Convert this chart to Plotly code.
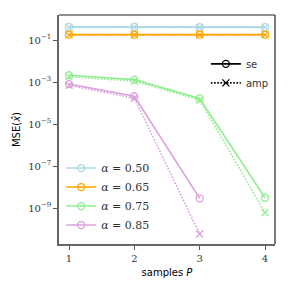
import plotly.graph_objects as go

samples = [1, 2, 3, 4]
alphas = ["0.50", "0.65", "0.75", "0.85"]
colors = ["#ADD8E6", "#FFA500", "#90EE90", "#DDA0DD"]

se_050 = [0.42, 0.42, 0.41, 0.41]
amp_050 = [0.40, 0.41, 0.40, 0.40]
se_065 = [0.18, 0.18, 0.18, 0.18]
amp_065 = [0.175, 0.175, 0.175, 0.175]
se_075 = [2.1e-3, 1.3e-3, 1.65e-4, 3.1e-9]
amp_075 = [1.8e-3, 1.1e-3, 1.4e-4, 6e-10]
se_085 = [8e-4, 2.1e-4, 2.9e-9]
amp_085 = [7e-4, 1.7e-4, 5.8e-11]

se_all = [se_050, se_065, se_075, se_085]
amp_all = [amp_050, amp_065, amp_075, amp_085]

ytick_vals = [1e-1, 1e-3, 1e-5, 1e-7, 1e-9]
ytick_text = ["10<sup>−1</sup>", "10<sup>−3</sup>", "10<sup>−5</sup>", "10<sup>−7</sup>", "10<sup>−9</sup>"]
xtick_vals = [1, 2, 3, 4]

DOT = "1.6px,1.6px"

fig = go.Figure()

for a, c, se, amp in zip(alphas, colors, se_all, amp_all):
    fig.add_trace(go.Scatter(
        x=samples[:len(amp)], y=amp, mode="lines+markers",
        line=dict(color=c, width=1.6, dash=DOT),
        marker=dict(symbol="x-thin", size=7, line=dict(color=c, width=1.3)),
        showlegend=False,
    ))
    fig.add_trace(go.Scatter(
        x=samples[:len(se)], y=se, mode="lines+markers",
        line=dict(color=c, width=1.6),
        marker=dict(symbol="circle-open", size=7, color=c, line=dict(color=c, width=1.3)),
        name=f"<i>α</i> = {a}", legend="legend",
    ))

fig.add_trace(go.Scatter(
    x=[None], y=[None], mode="lines+markers",
    line=dict(color="black", width=1.6),
    marker=dict(symbol="circle-open", size=7, color="black", line=dict(color="black", width=1.3)),
    name="se", legend="legend2",
))
fig.add_trace(go.Scatter(
    x=[None], y=[None], mode="lines+markers",
    line=dict(color="black", width=1.6, dash=DOT),
    marker=dict(symbol="x-thin", size=7, line=dict(color="black", width=1.3)),
    name="amp", legend="legend2",
))

# page body has an 8px margin: shrink the figure and shift the margins to compensate
fig.update_layout(
    width=283, height=283,
    margin=dict(l=51, r=16, t=7, b=47),
    paper_bgcolor="white", plot_bgcolor="white",
    font=dict(family="DejaVu Sans", size=10, color="black"),
    legend=dict(
        x=0.01, y=0.395, xanchor="left", yanchor="top",
        bgcolor="rgba(255,255,255,0)",
        font=dict(family="DejaVu Serif", size=11, color="#333"),
        tracegroupgap=0, itemwidth=30,
    ),
    legend2=dict(
        x=0.68, y=0.85, xanchor="left", yanchor="top",
        bgcolor="rgba(255,255,255,0)",
        font=dict(family="DejaVu Sans", size=10, color="#333"),
        itemwidth=30,
    ),
)

fig.update_xaxes(
    range=[0.847, 4.153], tickvals=xtick_vals, ticktext=[str(v) for v in xtick_vals],
    ticks="outside", ticklen=4, tickcolor="#555", showgrid=False, zeroline=False,
    showline=True, linecolor="#666", linewidth=1.5, mirror=False,
    tickfont=dict(family="DejaVu Serif", size=10, color="#333"),
    title=dict(text="samples <i>P</i>", font=dict(family="DejaVu Sans", size=10), standoff=6),
)
fig.update_yaxes(
    type="log", range=[-10.71, 0.19], tickvals=ytick_vals, ticktext=ytick_text,
    ticks="outside", ticklen=4, tickcolor="#555", showgrid=False, zeroline=False,
    showline=True, linecolor="#666", linewidth=1.5, mirror=False,
    tickfont=dict(family="DejaVu Serif", size=10, color="#333"),
    title=dict(text="MSE(<i>x̂</i>)", font=dict(family="DejaVu Sans", size=10), standoff=6),
)
# top and right spines
fig.add_shape(type="line", xref="paper", yref="paper", x0=0, x1=1, y0=1, y1=1,
              line=dict(color="#222", width=1.2))
fig.add_shape(type="line", xref="paper", yref="paper", x0=1, x1=1, y0=0, y1=1,
              line=dict(color="#222", width=1.2))

fig.write_html("out.html")
